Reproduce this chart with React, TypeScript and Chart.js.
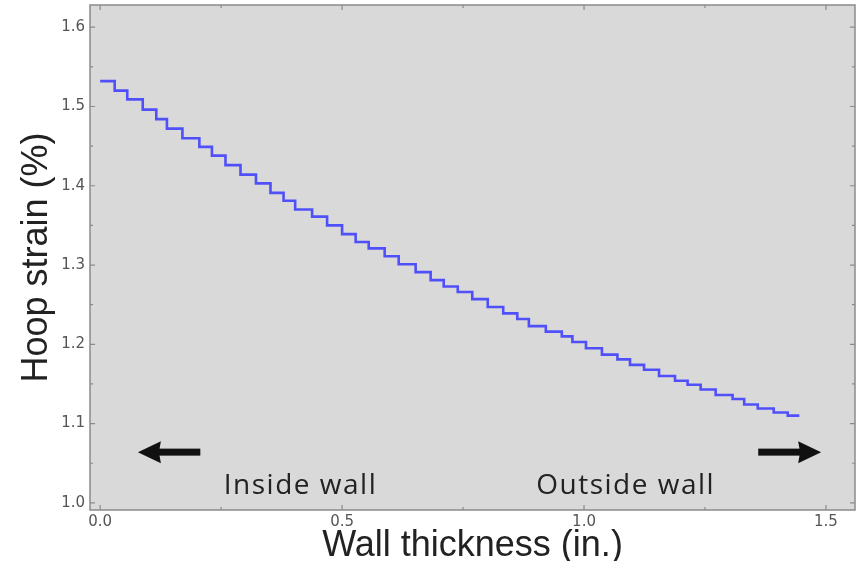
import React, { useEffect, useRef } from "react";
import { Chart, registerables } from "chart.js";

Chart.register(...registerables);

// Step edges along the wall (in.) – 50 edges bounding 49 steps
const WALL_EDGES = [
  0.0, 0.03, 0.056, 0.088, 0.116, 0.138, 0.17, 0.205, 0.231, 0.259,
  0.29, 0.322, 0.352, 0.379, 0.403, 0.438, 0.469, 0.5, 0.528, 0.555,
  0.588, 0.617, 0.652, 0.683, 0.71, 0.739, 0.769, 0.801, 0.833, 0.862,
  0.886, 0.921, 0.954, 0.976, 1.004, 1.037, 1.069, 1.095, 1.124, 1.155,
  1.188, 1.214, 1.241, 1.272, 1.307, 1.331, 1.359, 1.392, 1.421, 1.445,
];

// Hoop strain (%) of each step
const HOOP_STRAIN = [
  1.532, 1.52, 1.509, 1.496, 1.484, 1.472, 1.46, 1.449, 1.438, 1.426,
  1.414, 1.403, 1.391, 1.381, 1.37, 1.361, 1.35, 1.339, 1.329, 1.321,
  1.311, 1.301, 1.291, 1.281, 1.273, 1.266, 1.257, 1.247, 1.239, 1.232,
  1.223, 1.216, 1.21, 1.203, 1.195, 1.187, 1.181, 1.174, 1.168, 1.16,
  1.154, 1.149, 1.143, 1.136, 1.131, 1.124, 1.119, 1.114, 1.11,
];

const X_TICKS = [0, 0.5, 1.0, 1.5];
const X_MINOR = [0.25, 0.75, 1.25];
const Y_TICKS = [1.0, 1.1, 1.2, 1.3, 1.4, 1.5, 1.6];
const Y_MINOR = [1.05, 1.15, 1.25, 1.35, 1.45, 1.55];

const X_TITLE = "Wall thickness (in.)";
const Y_TITLE = "Hoop strain (%)";
const INSIDE_LABEL = "Inside wall";
const OUTSIDE_LABEL = "Outside wall";

const framePlugin = {
  id: "frame",
  beforeDraw(chart: any) {
    const { ctx, chartArea } = chart;
    ctx.save();
    ctx.fillStyle = "#d9d9d9";
    ctx.fillRect(chartArea.left, chartArea.top, chartArea.right - chartArea.left, chartArea.bottom - chartArea.top);
    ctx.restore();
  },
  afterDraw(chart: any) {
    const { ctx, chartArea } = chart;
    const xs = chart.scales.x;
    const ys = chart.scales.y;
    const { left, right, top, bottom } = chartArea;
    ctx.save();
    ctx.strokeStyle = "#8a8a8a";
    ctx.lineWidth = 1.5;
    ctx.strokeRect(left, top, right - left, bottom - top);
    ctx.lineWidth = 1.2;
    const tick = (vals: number[], len: number) => {
      ctx.beginPath();
      for (const v of vals) {
        const px = xs.getPixelForValue(v);
        ctx.moveTo(px, bottom);
        ctx.lineTo(px, bottom - len);
        ctx.moveTo(px, top);
        ctx.lineTo(px, top + len);
      }
      ctx.stroke();
    };
    const ytick = (vals: number[], len: number) => {
      ctx.beginPath();
      for (const v of vals) {
        const py = ys.getPixelForValue(v);
        ctx.moveTo(left, py);
        ctx.lineTo(left + len, py);
        ctx.moveTo(right, py);
        ctx.lineTo(right - len, py);
      }
      ctx.stroke();
    };
    tick(X_TICKS, 5);
    tick(X_MINOR, 3);
    ytick(Y_TICKS, 5);
    ytick(Y_MINOR, 3);
    ctx.restore();
  },
};

const annotationPlugin = {
  id: "wallNotes",
  afterDatasetsDraw(chart: any, _args: any, opts: any) {
    const { ctx } = chart;
    const xs = chart.scales.x;
    const ys = chart.scales.y;
    ctx.save();
    ctx.fillStyle = "#111";
    for (const a of opts.arrows) {
      const x1 = xs.getPixelForValue(a.from);
      const x2 = xs.getPixelForValue(a.to);
      const y = ys.getPixelForValue(a.y);
      const dir = Math.sign(x2 - x1);
      const head = 21;
      const hb = x2 - dir * head;
      ctx.fillRect(Math.min(x1, hb), y - 3.5, Math.abs(hb - x1), 7);
      ctx.beginPath();
      ctx.moveTo(x2, y);
      ctx.lineTo(hb - dir * 2, y - 11);
      ctx.lineTo(hb, y);
      ctx.lineTo(hb - dir * 2, y + 11);
      ctx.closePath();
      ctx.fill();
    }
    ctx.fillStyle = "#222";
    ctx.font = "28px 'Open Sans'";
    (ctx as any).letterSpacing = "1.5px";
    ctx.textAlign = "center";
    ctx.textBaseline = "alphabetic";
    for (const t of opts.texts) {
      ctx.fillText(t.text, xs.getPixelForValue(t.x), ys.getPixelForValue(t.y));
    }
    ctx.restore();
  },
};

export default function App() {
  const ref = useRef<HTMLCanvasElement | null>(null);
  useEffect(() => {
    if (!ref.current) return;
    const points = HOOP_STRAIN.map((v, i) => ({ x: WALL_EDGES[i], y: v }));
    points.push({ x: WALL_EDGES[WALL_EDGES.length - 1], y: HOOP_STRAIN[HOOP_STRAIN.length - 1] });

    const tickFont = { family: "'DejaVu Sans'", size: 15 };
    const titleFont = { family: "'Liberation Sans', Arial", size: 36, lineHeight: 1 };

    const chart = new Chart(ref.current, {
      type: "line",
      data: {
        datasets: [
          {
            data: points,
            stepped: "before",
            borderColor: "rgb(80,80,250)",
            borderWidth: 2.6,
            pointRadius: 0,
            fill: false,
            borderJoinStyle: "miter",
          },
        ],
      },
      options: {
        animation: false,
        responsive: false,
        maintainAspectRatio: false,
        layout: { padding: { top: 5, right: 5, left: 0, bottom: 0 } },
        plugins: {
          legend: { display: false },
          tooltip: { enabled: false },
          wallNotes: {
            arrows: [
              { from: 0.207, to: 0.078, y: 1.064 },
              { from: 1.36, to: 1.49, y: 1.064 },
            ],
            texts: [
              { text: INSIDE_LABEL, x: 0.414, y: 1.011 },
              { text: OUTSIDE_LABEL, x: 1.086, y: 1.011 },
            ],
          },
        } as any,
        scales: {
          x: {
            type: "linear",
            min: -0.021,
            max: 1.56,
            grid: { display: false, drawTicks: false },
            border: { display: false },
            afterBuildTicks: (s: any) => {
              s.ticks = X_TICKS.map((v) => ({ value: v }));
            },
            afterFit: (s: any) => {
              s.height = 51;
              s.paddingLeft = 0;
              s.paddingRight = 0;
            },
            ticks: {
              padding: 3,
              color: "#555",
              font: tickFont,
              maxRotation: 0,
              callback: (v: any) => Number(v).toFixed(1),
            },
            title: {
              display: true,
              text: X_TITLE,
              color: "#222",
              font: titleFont,
              padding: { top: 0, bottom: -3 },
            },
          },
          y: {
            type: "linear",
            min: 0.991,
            max: 1.628,
            grid: { display: false, drawTicks: false },
            border: { display: false },
            afterBuildTicks: (s: any) => {
              s.ticks = Y_TICKS.map((v) => ({ value: v }));
            },
            afterFit: (s: any) => {
              s.width = 90;
              s.paddingTop = 0;
              s.paddingBottom = 0;
            },
            ticks: {
              padding: 5,
              color: "#555",
              font: tickFont,
              callback: (v: any) => Number(v).toFixed(1),
            },
            title: {
              display: true,
              text: Y_TITLE,
              color: "#222",
              font: titleFont,
              padding: { top: 19, bottom: 0 },
            },
          },
        },
      },
      plugins: [framePlugin, annotationPlugin],
    });
    return () => chart.destroy();
  }, []);

  return (
    <div style={{ position: "absolute", left: 0, top: 0, width: 860, height: 561, background: "#fff" }}>
      <canvas ref={ref} width={860} height={561} style={{ width: 860, height: 561 }} />
    </div>
  );
}
